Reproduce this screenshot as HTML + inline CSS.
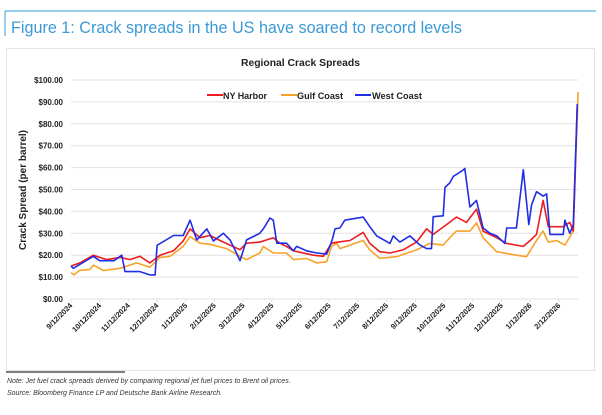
<!DOCTYPE html>
<html><head><meta charset="utf-8"><style>
body{margin:0;width:602px;height:410px;background:#fff;overflow:hidden;font-family:"Liberation Sans",sans-serif;}
</style></head><body>
<svg width="602" height="410" xmlns="http://www.w3.org/2000/svg">
<line x1="5" y1="11" x2="596" y2="11" stroke="#5aaee0" stroke-width="1.2"/>
<line x1="5" y1="11" x2="5" y2="36" stroke="#5aaee0" stroke-width="1.2"/>
<text x="11" y="33" font-size="17" textLength="451" lengthAdjust="spacingAndGlyphs" fill="#3b9ad6">Figure 1: Crack spreads in the US have soared to record levels</text>
<rect x="6.5" y="48.5" width="588" height="322" fill="#fff" stroke="#e4e4e4"/>
<text x="241" y="66" font-size="10" font-weight="bold" textLength="119" lengthAdjust="spacingAndGlyphs" fill="#222">Regional Crack Spreads</text>
<g id="grid"></g>
<g id="yticks"></g>
<text transform="translate(26,190) rotate(-90)" font-size="10" font-weight="bold" text-anchor="middle" fill="#222">Crack Spread (per barrel)</text>
<g id="xticks"></g>
<g id="series"></g>
<g font-size="9.5" font-weight="bold" fill="#222">
<g><line x1="207" y1="95" x2="223" y2="95" stroke="#ee1c1c" stroke-width="2"/><text x="223" y="99" textLength="44" lengthAdjust="spacingAndGlyphs">NY Harbor</text></g>
<g><line x1="281" y1="95" x2="297" y2="95" stroke="#f7a32a" stroke-width="2"/><text x="297" y="99" textLength="46" lengthAdjust="spacingAndGlyphs">Gulf Coast</text></g>
<g><line x1="355" y1="95" x2="371" y2="95" stroke="#1f2ee6" stroke-width="2"/><text x="372" y="99" textLength="50" lengthAdjust="spacingAndGlyphs">West Coast</text></g>
</g>
<line x1="6" y1="372" x2="125" y2="372" stroke="#333" stroke-width="1.2"/>
<text x="7" y="383" font-size="7" font-style="italic" fill="#333">Note: Jet fuel crack spreads derived by comparing regional jet fuel prices to Brent oil prices.</text>
<text x="7" y="395" font-size="7" font-style="italic" fill="#333">Source: Bloomberg Finance LP and Deutsche Bank Airline Research.</text>
</svg>
<script>
const tickLabels=["9/12/2024","10/12/2024","11/12/2024","12/12/2024","1/12/2025","2/12/2025","3/12/2025","4/12/2025","5/12/2025","6/12/2025","7/12/2025","8/12/2025","9/12/2025","10/12/2025","11/12/2025","12/12/2025","1/12/2026","2/12/2026"];
const yTicks=[0,10,20,30,40,50,60,70,80,90,100];
// months since 9/12/2024
const westT=[0,0.08,0.78,1.0,1.5,1.77,1.88,2.4,2.75,2.93,3.0,3.57,3.91,4.15,4.38,4.73,4.96,5.31,5.54,5.71,5.89,6.12,6.58,6.7,6.93,7.05,7.17,7.51,7.75,7.86,8.21,8.56,8.91,9.1,9.2,9.37,9.54,10.18,10.41,10.65,11.11,11.23,11.46,11.81,12.16,12.39,12.56,12.62,12.97,13.03,13.2,13.32,13.67,13.72,13.9,14.13,14.36,14.6,14.83,15.12,15.18,15.52,15.64,15.76,15.95,16.05,16.22,16.45,16.57,16.69,17.15,17.21,17.38,17.5,17.64];
const westV=[15,14,19.5,17.5,17.5,20,12.5,12.5,11,11,24.5,29,29,36,27,32,26.5,30,27,22.5,17.5,27,30,32,37,36,25.5,25.5,22,24,22,21,20.5,27,32,32.4,36,37.4,33,28.8,25.4,28.8,26,28.8,24.6,23,23,37.6,38,51,53,56,58.9,59.6,42,45,32.4,30,28.8,25.4,32.4,32.4,46,59,34,43,49,47,48,29.5,29.5,36,30,34,89];
const nyT=[0,0.31,0.78,1.24,1.71,2.06,2.4,2.75,3.1,3.57,3.91,4.15,4.49,4.84,5.31,5.89,6.12,6.58,7.05,7.28,7.51,7.75,8.44,8.79,9.08,9.3,9.72,10.18,10.41,10.76,11.11,11.57,12.04,12.39,12.62,13.09,13.43,13.78,14.13,14.36,14.83,15.18,15.76,16.0,16.22,16.45,16.63,17.15,17.38,17.5,17.64];
const nyV=[15,16.5,20,18,19,18,19.5,16.5,20,22,26.5,32,28,29,26,22.5,25.5,26,28,25.5,24,22,20,19.5,25.5,26,26.7,30.4,25.4,21.6,21,22.4,26,32,29.5,34,37.4,35,41,31,28,25.4,24,26.7,29.5,45,33,33,35,31,89];
const gulfT=[0,0.1,0.3,0.66,0.78,1.13,1.71,2.29,2.75,3.1,3.45,3.91,4.15,4.49,4.84,5.42,5.89,6.12,6.58,6.7,7.05,7.51,7.75,8.21,8.56,8.91,9.08,9.26,9.37,10.18,10.41,10.76,11.34,12.04,12.5,12.97,13.2,13.43,13.9,14.13,14.36,14.83,15.52,15.87,16.22,16.45,16.63,16.92,17.21,17.5,17.67];
const gulfV=[12,11,13,13.5,15.5,13,14,16.5,14.5,19,19.5,24,28.5,25.5,25,23,19.5,18,21,24,21,21,18,18.5,16.5,17,24,25.5,23,26.7,22.4,18.6,19.3,22.4,25.4,24.6,28,31,31,34.7,28,21.6,20,19.3,26.7,31,26,26.7,24.6,31,94.5];
const X0=71,XM=28.7,Y0=299,YS=2.19;
const xs=t=>X0+t*XM, ys=v=>Y0-v*YS;
const NS="http://www.w3.org/2000/svg";
const grid=document.getElementById('grid'),yt=document.getElementById('yticks'),xt=document.getElementById('xticks'),se=document.getElementById('series');
yTicks.forEach(v=>{
 const l=document.createElementNS(NS,'line');
 
 
 l.setAttribute('x1',X0);l.setAttribute('x2',578);l.setAttribute('y1',ys(v));l.setAttribute('y2',ys(v));
 l.setAttribute('stroke','#e2e2e2');l.setAttribute('stroke-width','1');grid.appendChild(l);
 const t=document.createElementNS(NS,'text');
 
 
 t.setAttribute('x',63);t.setAttribute('y',ys(v)+3);t.setAttribute('text-anchor','end');
 t.setAttribute('font-size','8');t.setAttribute('font-weight','bold');t.setAttribute('fill','#222');
 t.textContent='$'+v.toFixed(2);yt.appendChild(t);
});
tickLabels.forEach((s,i)=>{
 const x=xs(i);
 const tk=document.createElementNS(NS,'line');
 
 
 tk.setAttribute('x1',x);tk.setAttribute('x2',x);tk.setAttribute('y1',299);tk.setAttribute('y2',302);tk.setAttribute('stroke','#ddd');xt.appendChild(tk);
 const t=document.createElementNS(NS,'text');
 
 
 t.setAttribute('transform','translate('+(x+2)+',306) rotate(-45)');t.setAttribute('text-anchor','end');
 t.setAttribute('font-size','7.5');t.setAttribute('font-weight','bold');t.setAttribute('fill','#222');
 t.textContent=s;xt.appendChild(t);
});
function draw(T,V,c,name){
 const p=document.createElementNS(NS,'polyline');
 
 
 p.setAttribute('points',T.map((t,i)=>xs(t).toFixed(1)+','+ys(V[i]).toFixed(1)).join(' '));
 p.setAttribute('fill','none');p.setAttribute('stroke',c);p.setAttribute('stroke-width','1.6');p.setAttribute('stroke-linejoin','round');
 se.appendChild(p);
}
draw(gulfT,gulfV,'#f7a32a','gulf-coast-line');
draw(nyT,nyV,'#ee1c1c','ny-harbor-line');
draw(westT,westV,'#1f2ee6','west-coast-line');
</script>
</body></html>
